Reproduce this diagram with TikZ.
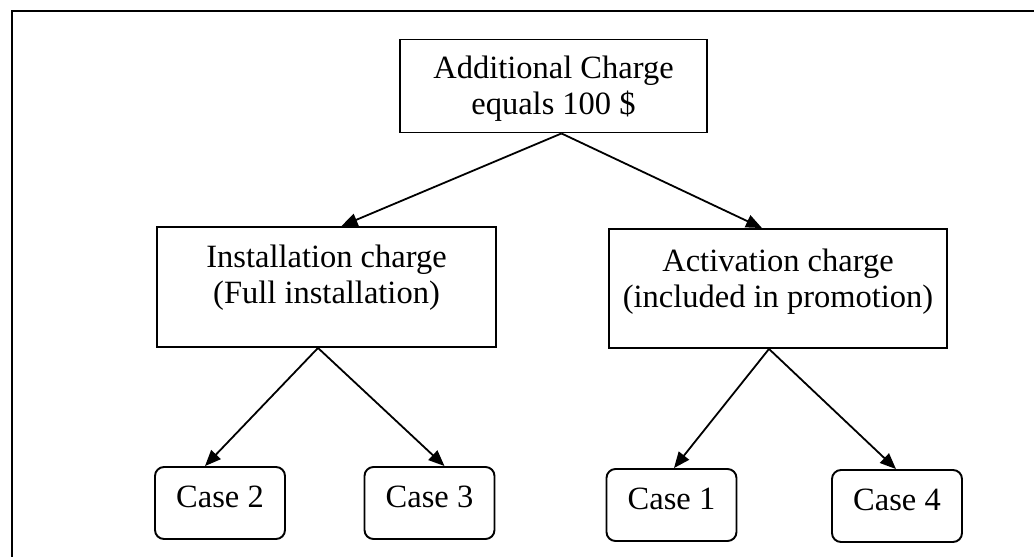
\documentclass[tikz,border=0pt]{standalone}
\usepackage{fontspec}
\setmainfont{Liberation Serif}
\usetikzlibrary{arrows.meta,calc}

\begin{document}
\begin{tikzpicture}[x=1pt,y=-1pt,
  font=\fontsize{32.5}{36}\selectfont,
  chargebox/.style={draw, rectangle, line width=1.9pt, inner sep=0pt},
  boxtext/.style={align=center, inner sep=0pt},
  casebox/.style={draw, rectangle, rounded corners=9pt, line width=1.9pt,
    minimum width=130pt, minimum height=72pt, inner sep=0pt,
    text height=22pt, text depth=14pt},
  link/.style={line width=1.8pt, -{Triangle[length=16pt,width=13pt]}}]

  % page area and the frame (only its top and left edges fall inside)
  \useasboundingbox (0,0) rectangle (1034,557);
  \draw[line width=2.2pt] (12,557) -- (12,11) -- (1034,11);

  % root
  \node[chargebox, minimum width=307pt, minimum height=93pt] (total) at (553.5,86) {};
  \node[boxtext] (total-t) at ($(total)+(0,3)$) {Additional Charge\\equals 100 \$};

  % second level
  \node[chargebox, minimum width=339pt, minimum height=120pt] (inst) at (326.5,287) {};
  \node[boxtext] (inst-t) at ($(inst)+(0,-9)$) {Installation charge\\(Full installation)};

  \node[chargebox, minimum width=338pt, minimum height=119pt] (act) at (778,288.5) {};
  \node[boxtext] (act-t) at ($(act)+(0,-7)$) {Activation charge\\(included in promotion)};

  % cases
  \node[casebox] (c2) at (220,503) {Case 2};
  \node[casebox] (c3) at (429.5,503) {Case 3};
  \node[casebox] (c1) at (671.5,505) {Case 1};
  \node[casebox] (c4) at (897,506) {Case 4};

  % connectors
  \draw[link] ([xshift=8pt]total.south) -- ([xshift=15pt]inst.north);
  \draw[link] ([xshift=8pt]total.south) -- ([xshift=-16pt]act.north);
  \draw[link] ([xshift=-8.5pt]inst.south) -- ([xshift=-15pt]c2.north);
  \draw[link] ([xshift=-8.5pt]inst.south) -- ([xshift=15pt]c3.north);
  \draw[link] ([xshift=-9pt]act.south) -- ([xshift=2.5pt]c1.north);
  \draw[link] ([xshift=-9pt]act.south) -- ([xshift=-1pt]c4.north);
\end{tikzpicture}
\end{document}
